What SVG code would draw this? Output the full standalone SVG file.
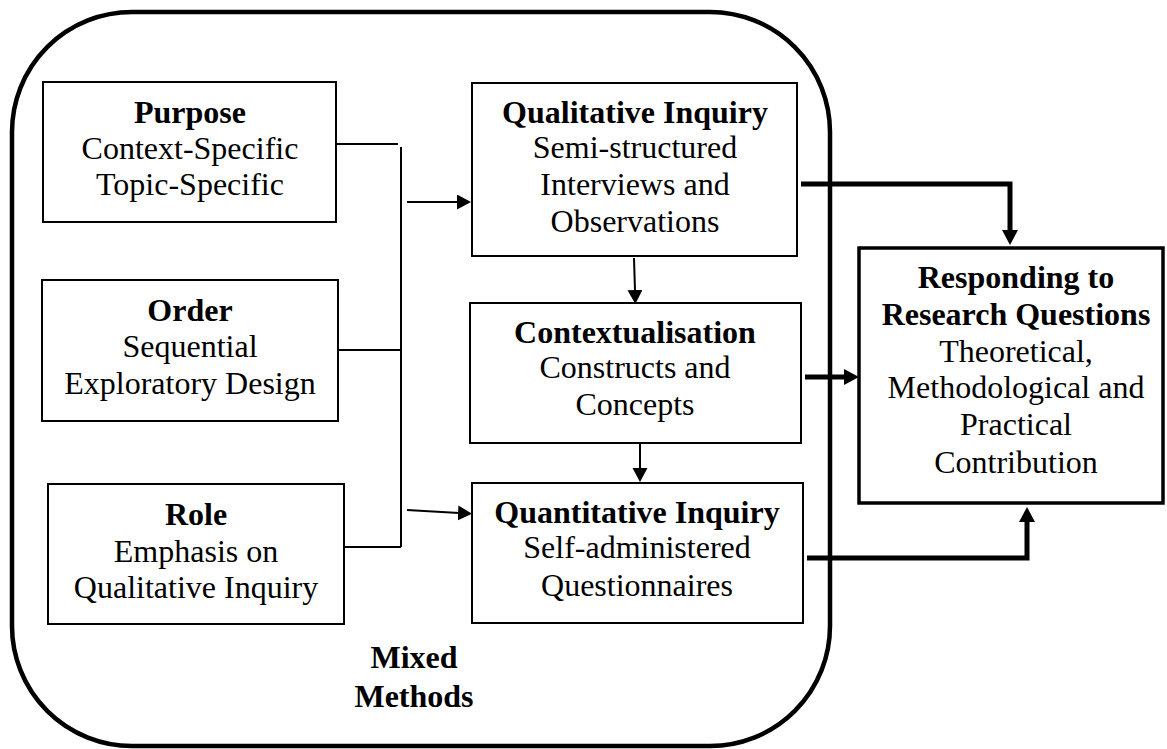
<svg xmlns="http://www.w3.org/2000/svg" width="1167" height="749" viewBox="0 0 1167 749">
<style>
  text { font-family: "Liberation Serif", "Times New Roman", serif; font-size: 32px; fill: #000; text-anchor: middle; }
  .b { font-weight: bold; }
  .box { fill: #fff; stroke: #000; stroke-width: 2; }
  .thin { fill: none; stroke: #000; stroke-width: 2; }
  .thick { fill: none; stroke: #000; stroke-width: 5; stroke-linejoin: miter; }
</style>
<defs>
  <marker id="ah" markerUnits="userSpaceOnUse" markerWidth="16" markerHeight="16" refX="1" refY="7.5" orient="auto">
    <path d="M0,0 L14,7.5 L0,15 z" fill="#000"/>
  </marker>
  <marker id="ahk" markerUnits="userSpaceOnUse" markerWidth="18" markerHeight="18" refX="1" refY="8" orient="auto">
    <path d="M0,0 L15,8 L0,16 z" fill="#000"/>
  </marker>
</defs>
<rect id="mixed-methods-frame" x="12" y="12" width="818" height="734" rx="120" ry="120" fill="none" stroke="#000" stroke-width="4.5"/>
<g id="connectors">
  <path class="thin" d="M336,144 H398"/>
  <path class="thin" d="M401,147 V547"/>
  <path class="thin" d="M338,350 H401"/>
  <path class="thin" d="M344,547 H401"/>
  <path class="thin" d="M407,202 H458" marker-end="url(#ah)"/>
  <path class="thin" d="M407,510 L459,513" marker-end="url(#ah)"/>
  <path class="thin" d="M634,258 L635,291" marker-end="url(#ah)"/>
  <path class="thin" d="M640,444 V469" marker-end="url(#ah)"/>
  <path class="thick" d="M801,184 H1010 V231" marker-end="url(#ahk)"/>
  <path class="thick" d="M805,377 H845" marker-end="url(#ahk)"/>
  <path class="thick" d="M807,558 H1027 V521" marker-end="url(#ahk)"/>
</g>
<g id="purpose">
  <rect class="box" x="43" y="82" width="293" height="140"/>
  <text class="b" x="190" y="123">Purpose</text>
  <text x="190" y="159">Context-Specific</text>
  <text x="190" y="195">Topic-Specific</text>
</g>
<g id="order">
  <rect class="box" x="42" y="280" width="296" height="141"/>
  <text class="b" x="190" y="321">Order</text>
  <text x="190" y="357">Sequential</text>
  <text x="190" y="394">Exploratory Design</text>
</g>
<g id="role">
  <rect class="box" x="48" y="484" width="296" height="140"/>
  <text class="b" x="196" y="525">Role</text>
  <text x="196" y="562">Emphasis on</text>
  <text x="196" y="598">Qualitative Inquiry</text>
</g>
<g id="qualitative">
  <rect class="box" x="472" y="83" width="325" height="173"/>
  <text class="b" x="635" y="123">Qualitative Inquiry</text>
  <text x="635" y="158">Semi-structured</text>
  <text x="635" y="195">Interviews and</text>
  <text x="635" y="232">Observations</text>
</g>
<g id="contextualisation">
  <rect class="box" x="470" y="303" width="331" height="140"/>
  <text class="b" x="635" y="343">Contextualisation</text>
  <text x="635" y="378">Constructs and</text>
  <text x="635" y="415">Concepts</text>
</g>
<g id="quantitative">
  <rect class="box" x="472" y="483" width="331" height="140"/>
  <text class="b" x="637" y="523">Quantitative Inquiry</text>
  <text x="637" y="558">Self-administered</text>
  <text x="637" y="596">Questionnaires</text>
</g>
<g id="responding">
  <rect x="859" y="248" width="304" height="255" fill="#fff" stroke="#000" stroke-width="3.5"/>
  <text class="b" x="1016" y="288">Responding to</text>
  <text class="b" x="1016" y="325">Research Questions</text>
  <text x="1016" y="362">Theoretical,</text>
  <text x="1016" y="398">Methodological and</text>
  <text x="1016" y="435">Practical</text>
  <text x="1016" y="473">Contribution</text>
</g>
<g id="mixed-methods-label">
  <text class="b" x="414" y="668">Mixed</text>
  <text class="b" x="414" y="707">Methods</text>
</g>
</svg>
